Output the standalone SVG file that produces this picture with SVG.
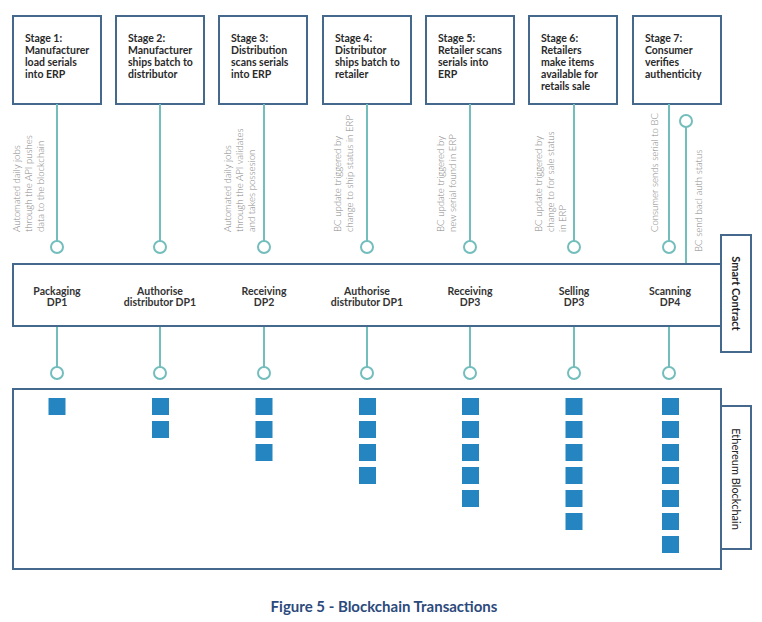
<svg xmlns="http://www.w3.org/2000/svg" width="762" height="622" viewBox="0 0 762 622">
<style>
.box{fill:#fff;stroke:#44698c;stroke-width:2}
.stage{font-family:Lato,"Liberation Sans",sans-serif;font-size:10.5px;font-weight:bold;fill:#2a2a2a}
.note{font-family:Lato,"Liberation Sans",sans-serif;font-size:9.6px;font-weight:300;fill:#868686}
.dp{font-family:Lato,"Liberation Sans",sans-serif;font-size:10.5px;font-weight:bold;fill:#333;text-anchor:middle}
.lbl{font-family:Lato,"Liberation Sans",sans-serif;font-size:11px;fill:#222;text-anchor:middle}
.ln{stroke:#74bdbd;stroke-width:2;fill:none}
.dot{fill:#fff;stroke:#74bdbd;stroke-width:2}
.blk{fill:#2585c0}
</style>
<rect width="762" height="622" fill="#fff"/>
<g id="stage1"><rect class="box" x="13" y="16" width="88" height="88"/><text class="stage" x="25" y="42">Stage 1:<tspan x="25" dy="12">Manufacturer</tspan><tspan x="25" dy="12">load serials</tspan><tspan x="25" dy="12">into ERP</tspan></text></g>
<g id="stage2"><rect class="box" x="116" y="16" width="88" height="88"/><text class="stage" x="128" y="42">Stage 2:<tspan x="128" dy="12">Manufacturer</tspan><tspan x="128" dy="12">ships batch to</tspan><tspan x="128" dy="12">distributor</tspan></text></g>
<g id="stage3"><rect class="box" x="219" y="16" width="88" height="88"/><text class="stage" x="231" y="42">Stage 3:<tspan x="231" dy="12">Distribution</tspan><tspan x="231" dy="12">scans serials</tspan><tspan x="231" dy="12">into ERP</tspan></text></g>
<g id="stage4"><rect class="box" x="323" y="16" width="88" height="88"/><text class="stage" x="335" y="42">Stage 4:<tspan x="335" dy="12">Distributor</tspan><tspan x="335" dy="12">ships batch to</tspan><tspan x="335" dy="12">retailer</tspan></text></g>
<g id="stage5"><rect class="box" x="426" y="16" width="88" height="88"/><text class="stage" x="438" y="42">Stage 5:<tspan x="438" dy="12">Retailer scans</tspan><tspan x="438" dy="12">serials into</tspan><tspan x="438" dy="12">ERP</tspan></text></g>
<g id="stage6"><rect class="box" x="529" y="16" width="88" height="88"/><text class="stage" x="541" y="42">Stage 6:<tspan x="541" dy="12">Retailers</tspan><tspan x="541" dy="12">make items</tspan><tspan x="541" dy="12">available for</tspan><tspan x="541" dy="12">retails sale</tspan></text></g>
<g id="stage7"><rect class="box" x="633" y="16" width="88" height="88"/><text class="stage" x="645" y="42">Stage 7:<tspan x="645" dy="12">Consumer</tspan><tspan x="645" dy="12">verifies</tspan><tspan x="645" dy="12">authenticity</tspan></text></g>

<g id="connectors">
<line class="ln" x1="57" y1="104" x2="57" y2="241"/><circle class="dot" cx="57" cy="247" r="6"/>
<line class="ln" x1="160" y1="104" x2="160" y2="241"/><circle class="dot" cx="160" cy="247" r="6"/>
<line class="ln" x1="264" y1="104" x2="264" y2="241"/><circle class="dot" cx="264" cy="247" r="6"/>
<line class="ln" x1="367" y1="104" x2="367" y2="241"/><circle class="dot" cx="367" cy="247" r="6"/>
<line class="ln" x1="470" y1="104" x2="470" y2="241"/><circle class="dot" cx="470" cy="247" r="6"/>
<line class="ln" x1="574" y1="104" x2="574" y2="241"/><circle class="dot" cx="574" cy="247" r="6"/>
<line class="ln" x1="669" y1="104" x2="669" y2="241"/><circle class="dot" cx="669" cy="247" r="6"/>
<line class="ln" x1="686" y1="127" x2="686" y2="264"/><circle class="dot" cx="686" cy="121" r="6"/>
<line class="ln" x1="57" y1="326" x2="57" y2="367"/><circle class="dot" cx="57" cy="373" r="6"/>
<line class="ln" x1="160" y1="326" x2="160" y2="367"/><circle class="dot" cx="160" cy="373" r="6"/>
<line class="ln" x1="264" y1="326" x2="264" y2="367"/><circle class="dot" cx="264" cy="373" r="6"/>
<line class="ln" x1="367" y1="326" x2="367" y2="367"/><circle class="dot" cx="367" cy="373" r="6"/>
<line class="ln" x1="470" y1="326" x2="470" y2="367"/><circle class="dot" cx="470" cy="373" r="6"/>
<line class="ln" x1="574" y1="326" x2="574" y2="367"/><circle class="dot" cx="574" cy="373" r="6"/>
<line class="ln" x1="669" y1="326" x2="669" y2="367"/><circle class="dot" cx="669" cy="373" r="6"/>
</g>

<g id="notes">
<text class="note" transform="translate(20,232) rotate(-90)">Automated daily jobs<tspan x="0" dy="12">through the API pushes</tspan><tspan x="0" dy="12">data to the blockchain</tspan></text>
<text class="note" transform="translate(231,232) rotate(-90)">Automated daily jobs<tspan x="0" dy="12">through the API validates</tspan><tspan x="0" dy="12">and takes possesion</tspan></text>
<text class="note" transform="translate(341,232) rotate(-90)">BC update triggered by<tspan x="0" dy="12">change to ship status in ERP</tspan></text>
<text class="note" transform="translate(444,232) rotate(-90)">BC update triggered by<tspan x="0" dy="12">new serial found in ERP</tspan></text>
<text class="note" transform="translate(542,232) rotate(-90)">BC update triggered by<tspan x="0" dy="12">change to for sale status</tspan><tspan x="0" dy="12">in ERP</tspan></text>
<text class="note" transform="translate(658,232) rotate(-90)">Consumer sends serial to BC</text>
<text class="note" transform="translate(702,252) rotate(-90)">BC send bacl auth status</text>
</g>

<g id="smart-contract">
<rect class="box" x="721" y="235" width="30" height="117"/>
<text class="lbl" font-weight="bold" transform="translate(732,293.5) rotate(90)">Smart Contract</text>
<rect class="box" x="13" y="264" width="708" height="62"/>
<text class="dp" x="57" y="295">Packaging<tspan x="57" dy="11">DP1</tspan></text>
<text class="dp" x="160" y="295">Authorise<tspan x="160" dy="11">distributor DP1</tspan></text>
<text class="dp" x="264" y="295">Receiving<tspan x="264" dy="11">DP2</tspan></text>
<text class="dp" x="367" y="295">Authorise<tspan x="367" dy="11">distributor DP1</tspan></text>
<text class="dp" x="470" y="295">Receiving<tspan x="470" dy="11">DP3</tspan></text>
<text class="dp" x="574" y="295">Selling<tspan x="574" dy="11">DP3</tspan></text>
<text class="dp" x="670" y="295">Scanning<tspan x="670" dy="11">DP4</tspan></text>
</g>

<g id="ethereum-blockchain">
<rect class="box" x="721" y="406" width="30" height="143"/>
<text class="lbl" font-size="11.5" transform="translate(732,479) rotate(90)">Ethereum Blockchain</text>
<rect class="box" x="13" y="389" width="708" height="180"/>
<rect class="blk" x="48.5" y="398" width="17" height="17"/>
<rect class="blk" x="152" y="398" width="17" height="17"/><rect class="blk" x="152" y="421" width="17" height="17"/>
<rect class="blk" x="255.5" y="398" width="17" height="17"/><rect class="blk" x="255.5" y="421" width="17" height="17"/><rect class="blk" x="255.5" y="444" width="17" height="17"/>
<rect class="blk" x="359" y="398" width="17" height="17"/><rect class="blk" x="359" y="421" width="17" height="17"/><rect class="blk" x="359" y="444" width="17" height="17"/><rect class="blk" x="359" y="467" width="17" height="17"/>
<rect class="blk" x="462" y="398" width="17" height="17"/><rect class="blk" x="462" y="421" width="17" height="17"/><rect class="blk" x="462" y="444" width="17" height="17"/><rect class="blk" x="462" y="467" width="17" height="17"/><rect class="blk" x="462" y="490" width="17" height="17"/>
<rect class="blk" x="565.5" y="398" width="17" height="17"/><rect class="blk" x="565.5" y="421" width="17" height="17"/><rect class="blk" x="565.5" y="444" width="17" height="17"/><rect class="blk" x="565.5" y="467" width="17" height="17"/><rect class="blk" x="565.5" y="490" width="17" height="17"/><rect class="blk" x="565.5" y="513" width="17" height="17"/>
<rect class="blk" x="662" y="398" width="17" height="17"/><rect class="blk" x="662" y="421" width="17" height="17"/><rect class="blk" x="662" y="444" width="17" height="17"/><rect class="blk" x="662" y="467" width="17" height="17"/><rect class="blk" x="662" y="490" width="17" height="17"/><rect class="blk" x="662" y="513" width="17" height="17"/><rect class="blk" x="662" y="536" width="17" height="17"/>
</g>

<text x="384" y="612" text-anchor="middle" font-family="Lato,'Liberation Sans',sans-serif" font-size="15" font-weight="bold" fill="#2c4a7c">Figure 5 - Blockchain Transactions</text>
</svg>
